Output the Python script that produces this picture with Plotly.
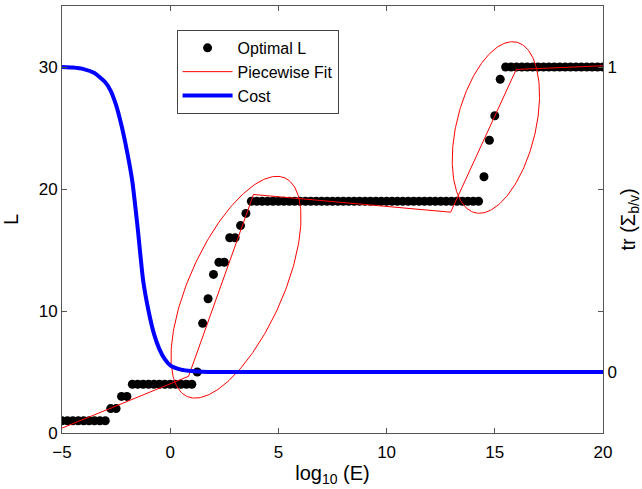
import numpy as np
import plotly.graph_objects as go

# ---- data ----
# Optimal L sampled on a log10(E) grid from -5 to 20 (step 0.25)
log_e = np.arange(-5, 20.0001, 0.25)
optimal_L = (
    [1] * 9 +            # -5.00 .. -3.00
    [2] * 2 +            # -2.75 .. -2.50
    [3] * 2 +            # -2.25 .. -2.00
    [4] * 12 +           # -1.75 .. 1.00
    [5, 9, 11, 13, 14, 14, 16, 16, 17, 18] +   # 1.25 .. 3.50
    [19] * 43 +          # 3.75 .. 14.25
    [21, 24, 26, 29] +   # 14.50 .. 15.25
    [30] * 19            # 15.50 .. 20.00
)

fit_x = [-5.0, 0.85, 3.85, 12.96, 15.99, 20.0]
fit_y = [0.4, 4.65, 19.55, 18.1, 29.8, 30.1]

cost_x = [-5.0, -4.5, -4.0, -3.5, -3.0, -2.75, -2.5, -2.25, -2.0, -1.75, -1.5,
          -1.25, -1.0, -0.75, -0.5, -0.25, 0.0, 0.5, 1.0, 1.5, 2.0, 20.0]
cost_y = [1.0, 0.998, 0.993, 0.98, 0.95, 0.922, 0.875, 0.808, 0.725, 0.625, 0.47,
          0.30, 0.20, 0.125, 0.075, 0.042, 0.022, 0.008, 0.003, 0.001, 0.0, 0.0]

x_ticks = [-5, 0, 5, 10, 15, 20]
x_ticklabels = ["\u22125", "0", "5", "10", "15", "20"]
y_ticks = [0, 10, 20, 30]
y2_ticks = [0, 1]

# ellipse annotations: centre (data), semi-axes (px), angle (deg)
ellipses = [
    dict(cx=3.04, cy=11.95, a=120, b=47, ang=65.8),
    dict(cx=15.05, cy=25.04, a=88, b=39.6, ang=76.2),
]

x_range = [-5, 20]
y_range = [0, 35]
y2_range = [-0.2, 1.2]

W, H = 642, 489
ml, mr, mt, mb = 60, 39, 5, 56
pw, ph = W - ml - mr, H - mt - mb
sx = pw / (x_range[1] - x_range[0])
sy = ph / (y_range[1] - y_range[0])

font = "Liberation Sans, Arial, Helvetica, sans-serif"
axcol = "#555555"

fig = go.Figure()

fig.add_trace(go.Scatter(
    x=log_e, y=optimal_L, mode="markers", name="Optimal L",
    marker=dict(color="black", size=9, line=dict(width=0)),
))
fig.add_trace(go.Scatter(
    x=fit_x, y=fit_y, mode="lines", name="Piecewise Fit",
    line=dict(color="#ff0000", width=1),
))
fig.add_trace(go.Scatter(
    x=cost_x, y=cost_y, mode="lines", name="Cost", yaxis="y2",
    line=dict(color="#0000ff", width=4, shape="spline", smoothing=0.6),
))

t = np.linspace(0, 2 * np.pi, 240)
for e in ellipses:
    th = np.deg2rad(e["ang"])
    u = e["a"] * np.cos(t)
    v = e["b"] * np.sin(t)
    dx = u * np.cos(th) - v * np.sin(th)
    dy = u * np.sin(th) + v * np.cos(th)
    fig.add_trace(go.Scatter(
        x=e["cx"] + dx / sx, y=e["cy"] + dy / sy, mode="lines",
        line=dict(color="#ff0000", width=1), showlegend=False, hoverinfo="skip",
    ))

fig.update_layout(
    width=W, height=H,
    margin=dict(l=ml, r=mr, t=mt, b=mb),
    paper_bgcolor="white", plot_bgcolor="white",
    font=dict(family=font, size=17, color="black"),
    showlegend=True,
    legend=dict(
        x=(175 - ml) / pw, y=(H - mb - 29) / ph, xanchor="left", yanchor="top",
        bgcolor="white", bordercolor="#444444", borderwidth=1,
        font=dict(size=16), itemwidth=50, tracegroupgap=3,
    ),
    xaxis=dict(
        range=x_range, tickvals=x_ticks, ticktext=x_ticklabels,
        ticks="inside", ticklen=5, tickcolor=axcol, ticklabelstandoff=4,
        showline=True, linecolor=axcol, linewidth=1, mirror="ticks",
        showgrid=False, zeroline=False,
        title=dict(text="log<sub>10</sub> (E)", standoff=4),
    ),
    yaxis=dict(
        range=y_range, tickvals=y_ticks,
        ticks="inside", ticklen=5, tickcolor=axcol,
        showline=True, linecolor=axcol, linewidth=1, mirror="ticks",
        showgrid=False, zeroline=False,
        title=dict(text="L", standoff=20),
    ),
    yaxis2=dict(
        range=y2_range, overlaying="y", side="right",
        tickvals=y2_ticks, ticktext=["0", "1"],
        ticks="", showline=True, linecolor=axcol, linewidth=1,
        showgrid=False, zeroline=False,
        title=dict(text="tr (\u03a3<sub>b/v</sub>)", standoff=6),
    ),
)

fig.write_html("out.html")
